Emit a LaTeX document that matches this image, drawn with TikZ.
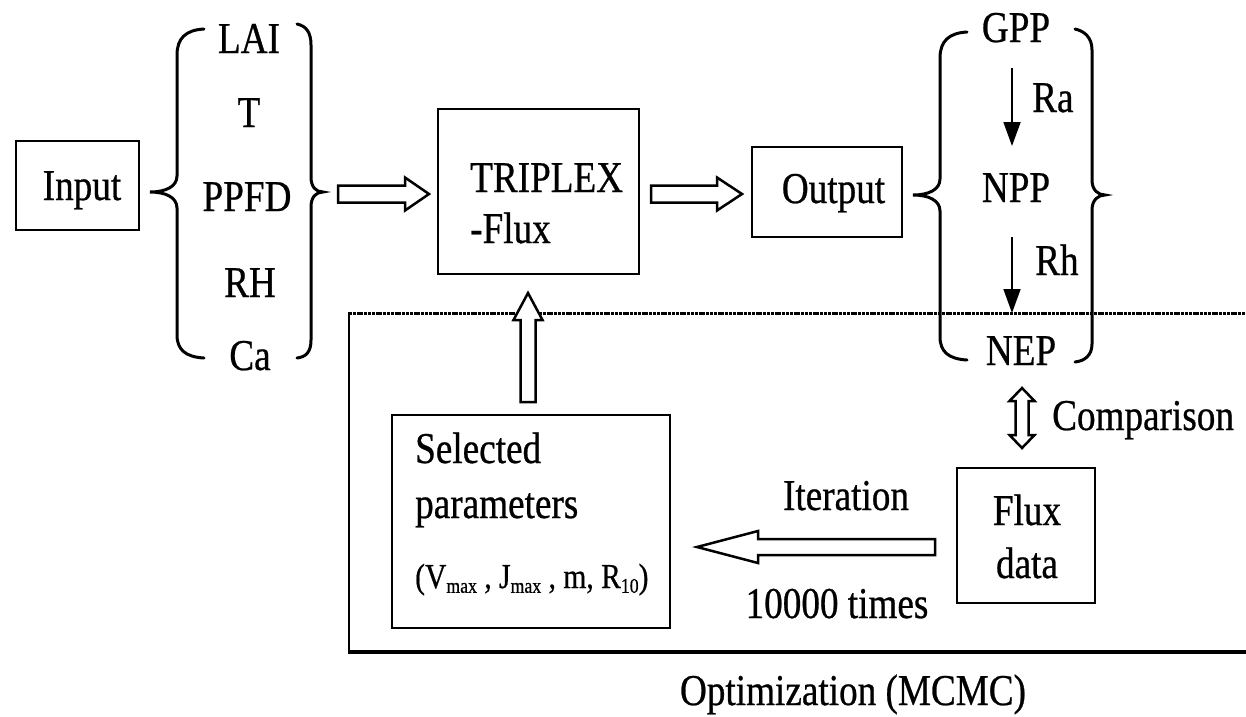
\documentclass[tikz,border=0pt]{standalone}
\usepackage{fontspec}
\setmainfont{Liberation Serif}[FakeStretch=0.845, FakeBold=0.6]
\usetikzlibrary{calc,arrows.meta}
\tikzset{
  box/.style={draw, line width=2.5pt, inner sep=0pt},
  lbl/.style={anchor=base, inner sep=0pt, font=\rmfamily\fontsize{44}{50}\selectfont},
  lblw/.style={lbl, anchor=base west},
  brace/.style={line width=3pt, line cap=round},
  hollow/.style={draw, line width=2.5pt, fill=white, line join=miter},
  thinarrow/.style={line width=1.8pt, -{Triangle[length=24pt,width=17pt]}},
}
\newcommand\harrow[5]{\draw[hollow] ($(#1)+(0,-#3)$) -- ($(#2)+(#5,-#3)$) -- ($(#2)+(#5,-#4)$) -- (#2) -- ($(#2)+(#5,#4)$) -- ($(#2)+(#5,#3)$) -- ($(#1)+(0,#3)$) -- cycle;}
\newcommand\varrow[5]{\draw[hollow] ($(#1)+(-#3,0)$) -- ($(#2)+(-#3,#5)$) -- ($(#2)+(-#4,#5)$) -- (#2) -- ($(#2)+(#4,#5)$) -- ($(#2)+(#3,#5)$) -- ($(#1)+(#3,0)$) -- cycle;}
\newcommand\sbs[1]{\raisebox{-0.3ex}{\fontsize{21}{21}\selectfont #1}}
\begin{document}
\begin{tikzpicture}[x=1pt,y=-1pt]
\useasboundingbox[fill=white] (0,0) rectangle (1246,716);

% optimization region
\draw[line width=3pt, dash pattern=on 3pt off 0.8pt] (349,313) -- (1246,313);
\draw[line width=2pt] (349,312) -- (349,652);
\draw[line width=3.5pt] (348,652) -- (1246,652);

% boxes
\node[box, minimum width=123pt, minimum height=89pt] (input) at (77.5,185.5) {};
\node[box, minimum width=201pt, minimum height=165pt] (triplex) at (538.5,191.5) {};
\node[box, minimum width=150pt, minimum height=90pt] (output) at (827,192) {};
\node[box, minimum width=278pt, minimum height=213pt] (params) at (531,521.5) {};
\node[box, line width=2pt, minimum width=138pt, minimum height=135pt] (flux) at (1026,535.5) {};

% box texts
\node[lbl] (tinput) at (82,200) {Input};
\node[lblw] (ttri1) at (470,192) {TRIPLEX};
\node[lblw] (ttri2) at (470,243) {-Flux};
\node[lbl] (toutput) at (833.5,203) {Output};
\node[lblw] (tsel1) at (415,463) {Selected};
\node[lblw] (tsel2) at (415,518) {parameters};
\node[lblw, font=\rmfamily\fontsize{35}{40}\selectfont] (tsel3) at (415,588) {(V\sbs{max} , J\sbs{max} , m, R\sbs{10})};
\node[lbl] (tflux1) at (1027,525) {Flux};
\node[lbl] (tflux2) at (1027,578) {data};

% input variables
\node[lbl] (lai) at (249,53) {LAI};
\node[lbl] (t) at (249,127) {T};
\node[lbl] (ppfd) at (247,211) {PPFD};
\node[lbl] (rh) at (250,297) {RH};
\node[lbl] (ca) at (250,370) {Ca};

% output variables
\node[lbl] (gpp) at (1016,42) {GPP};
\node[lbl] (npp) at (1016,202) {NPP};
\node[lbl] (nep) at (1021,365) {NEP};
\node[lblw] (ra) at (1032,112) {Ra};
\node[lblw] (rhl) at (1035,275) {Rh};

% other labels
\node[lblw] (cmp) at (1052,430) {Comparison};
\node[lbl] (iter) at (846,510) {Iteration};
\node[lbl] (times) at (837,618) {10000 times};
\node[lbl] (opt) at (853,705) {Optimization (MCMC)};

% braces
\draw[brace] (204,29) .. controls (186,30) and (177,38) .. (177,55) -- (177,176)
  .. controls (177,187) and (165,192) .. (150,192)
  .. controls (165,192) and (177,197) .. (177,208) -- (177,335)
  .. controls (177,350) and (186,357) .. (204,358);
\draw[brace] (297,24) .. controls (306,26) and (311,32) .. (311,45) -- (311,177)
  .. controls (311,187) and (316,192) .. (323,192)
  .. controls (316,192) and (311,197) .. (311,207) -- (311,340)
  .. controls (311,352) and (306,357) .. (297,358);
\draw[brace] (967,32) .. controls (949,33) and (940,41) .. (940,58) -- (940,179)
  .. controls (940,190) and (928,195) .. (913,195)
  .. controls (928,195) and (940,200) .. (940,211) -- (940,337)
  .. controls (940,352) and (949,359) .. (967,360);
\draw[brace] (1075,29) .. controls (1084,31) and (1092,37) .. (1092,50) -- (1092,180)
  .. controls (1092,190) and (1098,195) .. (1105,195)
  .. controls (1098,195) and (1092,200) .. (1092,210) -- (1092,344)
  .. controls (1092,356) and (1084,361) .. (1075,362);

% thin arrows
\coordinate (ra1) at (1012,68);  \coordinate (ra2) at (1012,146);
\coordinate (rh1) at (1012,237); \coordinate (rh2) at (1012,313);
\draw[thinarrow] (ra1) -- (ra2);
\draw[thinarrow] (rh1) -- (rh2);

% hollow arrows
\coordinate (ia1) at (338,194); \coordinate (ia2) at (429,194);
\harrow{ia1}{ia2}{8.5}{16.5}{-24}
\coordinate (oa1) at (651,194); \coordinate (oa2) at (742,194);
\harrow{oa1}{oa2}{8.5}{16.5}{-25}
\coordinate (it1) at (935,547); \coordinate (it2) at (697,547);
\harrow{it1}{it2}{8}{16}{61}
\coordinate (up1) at (528,402); \coordinate (up2) at (528,293);
\varrow{up1}{up2}{7.5}{14.5}{27}
\coordinate (cT) at (1022,388); \coordinate (cB) at (1022,448);
\draw[hollow] (cT) -- ($(cT)+(12.5,13)$) -- ($(cT)+(6.5,13)$) -- ($(cB)+(6.5,-13)$) -- ($(cB)+(12.5,-13)$) -- (cB)
  -- ($(cB)+(-12.5,-13)$) -- ($(cB)+(-6.5,-13)$) -- ($(cT)+(-6.5,13)$) -- ($(cT)+(-12.5,13)$) -- cycle;
\end{tikzpicture}
\end{document}
